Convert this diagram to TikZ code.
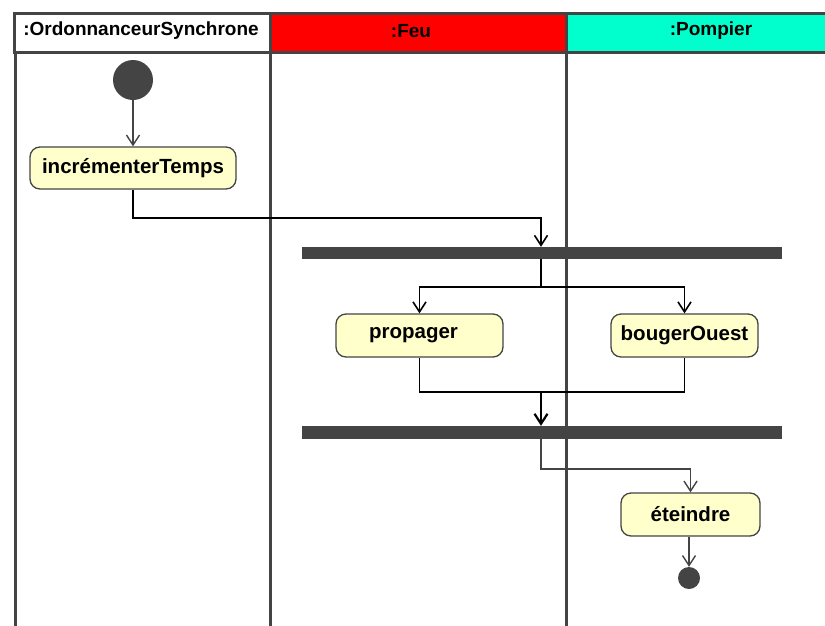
\documentclass[tikz,border=0pt]{standalone}
\usepackage{fontspec}
\setmainfont{Liberation Sans}
\usetikzlibrary{arrows.meta,shapes.misc}
\definecolor{dg}{HTML}{444444}
\definecolor{aqua}{HTML}{00FFCC}
\definecolor{actfill}{HTML}{FFFFCC}
\tikzset{
  lbl/.style={font=\fontsize{19}{22}\selectfont\bfseries},
  alb/.style={font=\fontsize{20.5}{24}\selectfont\bfseries},
  act/.style={alb, draw=dg, line width=1.3pt, fill=actfill, rounded corners=10pt, inner sep=0pt},
  bar/.style={fill=dg, draw=none, inner sep=0pt},
  hdr/.style={draw=dg, line width=3pt},
  lane/.style={draw=dg, line width=3pt},
  conn/.style={line width=1.6pt, black},
  gconn/.style={line width=1.4pt, dg},
  tip/.style={-{Straight Barb[length=10pt,width=13pt]}}
}
\begin{document}
\begin{tikzpicture}[x=1pt,y=-1pt]
\useasboundingbox (0,0) rectangle (825,625);
\clip (0,0) rectangle (825,625);
\fill[white] (0,0) rectangle (825,625);
% headers
\draw[hdr, fill=white] (14,13) rectangle (270,52);
\draw[hdr, fill=red] (270,13) rectangle (566,52);
\draw[hdr, fill=aqua] (566,13) rectangle (870,52);
\node[lbl] (h1) at (141,31) {:OrdonnanceurSynchrone};
\node[lbl] (h2) at (411,31) {:Feu};
\node[lbl] (h3) at (711,31) {:Pompier};
% lanes
\draw[lane] (15,52) -- (15,630);
\draw[lane] (270,52) -- (270,630);
\draw[lane] (566,52) -- (566,630);
% nodes
\node[circle, fill=dg, minimum size=40pt, inner sep=0pt] (start) at (133,80) {};
\node[act, minimum width=206pt, minimum height=42pt] (incr) at (133,168) {incrémenterTemps};
\node[bar, minimum width=480pt, minimum height=12pt] (fork) at (542,253) {};
\node[act, minimum width=167pt, minimum height=43pt] (prop) at (419.5,335.5) {propager\hspace*{12pt}};
\node[act, minimum width=147pt, minimum height=43pt] (boug) at (684.5,335.5) {bougerOuest};
\node[bar, minimum width=480pt, minimum height=13pt] (join) at (542,432.5) {};
\node[act, minimum width=139pt, minimum height=43pt] (et) at (690.5,514.5) {éteindre};
\node[circle, fill=dg, minimum size=22pt, inner sep=0pt] (end) at (689,578) {};
% connectors
\coordinate (c1) at (541,218);
\coordinate (f1) at (541,287);
\coordinate (j1) at (541,392);
\coordinate (e1) at (541,469);
\draw[gconn, tip] (start) -- (incr);
\draw[conn, tip] (incr.south) |- (c1) -- (c1 |- fork.north);
\draw[conn] (f1 |- fork.south) -- (f1);
\draw[conn, tip] (f1) -| (prop.north);
\draw[conn, tip] (f1) -| (boug.north);
\draw[conn] (prop.south) |- (j1) -| (boug.south);
\draw[conn, tip, line width=2.2pt] (j1) -- (j1 |- join.north);
\draw[gconn, tip] (e1 |- join.south) -- (e1) -| (et.north);
\draw[gconn, tip] (et.south -| end) -- (end.north);
\end{tikzpicture}
\end{document}
